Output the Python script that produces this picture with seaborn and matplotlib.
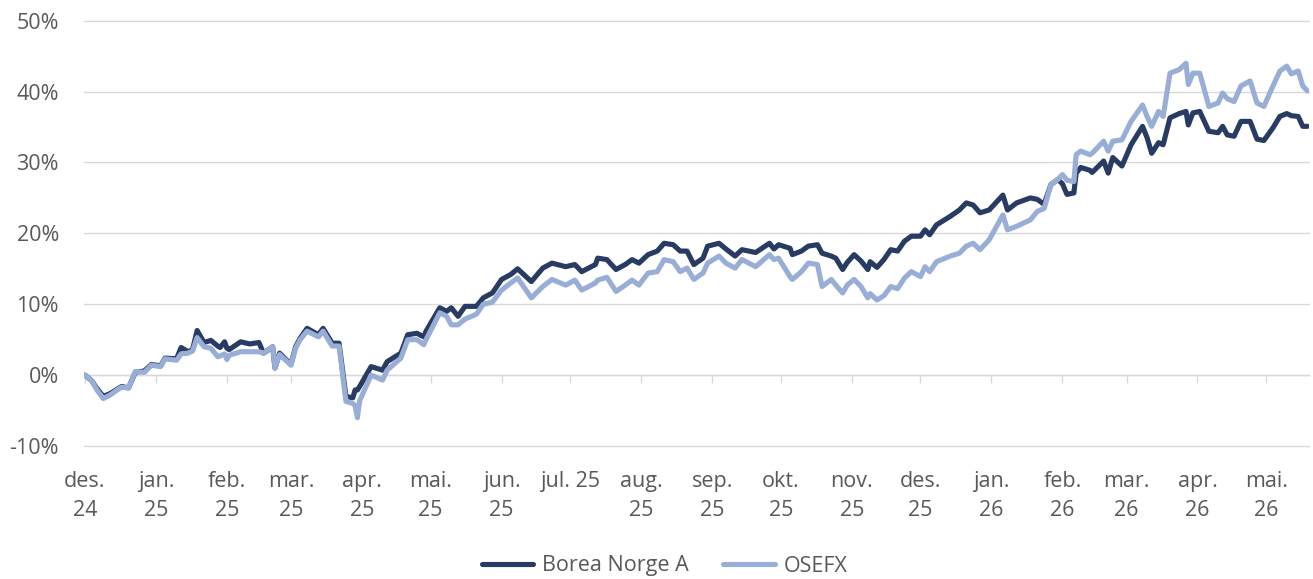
import numpy as np
import pandas as pd
import matplotlib
matplotlib.use("Agg")
import matplotlib.pyplot as plt
import matplotlib.dates as mdates
from matplotlib.ticker import PercentFormatter
import seaborn as sns

# Avkastning siden start, i prosent (lest av figuren)
dates = [
    "2024-12-01", "2024-12-04", "2024-12-06", "2024-12-09", "2024-12-12", "2024-12-15", "2024-12-17",
    "2024-12-20", "2024-12-23", "2024-12-27", "2024-12-30",
    "2025-01-03", "2025-01-05", "2025-01-10", "2025-01-12", "2025-01-15", "2025-01-17", "2025-01-19",
    "2025-01-22", "2025-01-25", "2025-01-28", "2025-01-29", "2025-01-31",
    "2025-02-01", "2025-02-02", "2025-02-07", "2025-02-11", "2025-02-15", "2025-02-17", "2025-02-21",
    "2025-02-22", "2025-02-24",
    "2025-03-01", "2025-03-03", "2025-03-05", "2025-03-08", "2025-03-13", "2025-03-15", "2025-03-19",
    "2025-03-22", "2025-03-25", "2025-03-28", "2025-03-29", "2025-03-30", "2025-03-31",
    "2025-04-05", "2025-04-10", "2025-04-12", "2025-04-18", "2025-04-21", "2025-04-25", "2025-04-28",
    "2025-04-29",
    "2025-05-05", "2025-05-08", "2025-05-10", "2025-05-13", "2025-05-16", "2025-05-21", "2025-05-24",
    "2025-05-28",
    "2025-06-01", "2025-06-05", "2025-06-08", "2025-06-14", "2025-06-19", "2025-06-23", "2025-06-29",
    "2025-07-03", "2025-07-06", "2025-07-12", "2025-07-13", "2025-07-17", "2025-07-21", "2025-07-25",
    "2025-07-28", "2025-07-31",
    "2025-08-04", "2025-08-08", "2025-08-11", "2025-08-15", "2025-08-18", "2025-08-21", "2025-08-24",
    "2025-08-28", "2025-08-30",
    "2025-09-04", "2025-09-07", "2025-09-11", "2025-09-14", "2025-09-20", "2025-09-26", "2025-09-28",
    "2025-09-30",
    "2025-10-05", "2025-10-06", "2025-10-10", "2025-10-13", "2025-10-17", "2025-10-19", "2025-10-23",
    "2025-10-25", "2025-10-28", "2025-10-30",
    "2025-11-02", "2025-11-05", "2025-11-08", "2025-11-09", "2025-11-12", "2025-11-15", "2025-11-18",
    "2025-11-21", "2025-11-24", "2025-11-27",
    "2025-12-01", "2025-12-03", "2025-12-05", "2025-12-08", "2025-12-14", "2025-12-18", "2025-12-21",
    "2025-12-24", "2025-12-27", "2025-12-31",
    "2026-01-06", "2026-01-08", "2026-01-12", "2026-01-18", "2026-01-21", "2026-01-24", "2026-01-27",
    "2026-01-30",
    "2026-02-01", "2026-02-03", "2026-02-06", "2026-02-07", "2026-02-09", "2026-02-13", "2026-02-14",
    "2026-02-19", "2026-02-21", "2026-02-23", "2026-02-27",
    "2026-03-03", "2026-03-08", "2026-03-10", "2026-03-12", "2026-03-15", "2026-03-17", "2026-03-20",
    "2026-03-24", "2026-03-27", "2026-03-28", "2026-03-30",
    "2026-04-02", "2026-04-06", "2026-04-10", "2026-04-12", "2026-04-14", "2026-04-17", "2026-04-20",
    "2026-04-24", "2026-04-27", "2026-04-30",
    "2026-05-04", "2026-05-07", "2026-05-10", "2026-05-12", "2026-05-15", "2026-05-17", "2026-05-19",
]

borea = [
    0.0, -0.8, -1.8, -3.0, -2.6, -2.0, -1.6, -1.8, 0.4, 0.6, 1.5,
    1.3, 2.4, 2.3, 3.9, 3.3, 3.6, 6.3, 4.6, 4.9, 4.1, 3.9, 4.7,
    3.8, 3.6, 4.7, 4.4, 4.6, 3.1, 4.0, 1.0, 3.1,
    1.5, 4.0, 5.2, 6.6, 5.7, 6.6, 4.5, 4.5, -3.0, -3.2, -2.1, -2.1, -1.6,
    1.2, 0.7, 1.9, 3.1, 5.7, 5.9, 5.4, 6.2,
    9.5, 9.0, 9.5, 8.3, 9.7, 9.7, 10.9, 11.6,
    13.5, 14.2, 15.0, 13.2, 15.1, 15.8, 15.3,
    15.6, 14.6, 15.6, 16.5, 16.3, 14.9, 15.6, 16.3, 15.8,
    17.0, 17.5, 18.6, 18.4, 17.5, 17.5, 15.6, 16.5, 18.2,
    18.6, 17.8, 16.8, 17.7, 17.3, 18.6, 17.8, 18.4,
    17.9, 17.0, 17.5, 18.2, 18.4, 17.2, 16.8, 16.5, 14.9, 15.9,
    17.0, 16.1, 14.9, 16.0, 15.2, 16.3, 17.7, 17.5, 18.9, 19.6,
    19.6, 20.5, 19.8, 21.2, 22.4, 23.3, 24.3, 24.0, 22.9, 23.3,
    25.4, 23.3, 24.3, 25.0, 24.8, 24.1, 26.9, 27.6,
    27.0, 25.5, 25.7, 28.5, 29.3, 28.9, 28.6, 30.2, 28.5, 30.7, 29.5,
    32.5, 35.1, 33.5, 31.3, 32.8, 32.5, 36.3, 36.9, 37.2, 35.3, 37.0,
    37.2, 34.4, 34.2, 35.1, 33.9, 33.7, 35.8, 35.8, 33.3, 33.1,
    34.9, 36.5, 36.9, 36.6, 36.5, 35.1, 35.1,
]

osefx = [
    0.0, -0.8, -2.0, -3.3, -2.8, -2.1, -1.7, -1.8, 0.5, 0.4, 1.4,
    1.2, 2.3, 2.1, 3.0, 3.1, 3.4, 5.3, 4.0, 3.8, 2.6, 2.7, 3.0,
    2.2, 2.8, 3.3, 3.3, 3.3, 3.1, 4.0, 1.0, 2.9,
    1.4, 3.8, 5.0, 6.2, 5.4, 6.2, 4.1, 4.1, -3.7, -4.0, -4.3, -6.0, -3.6,
    0.0, -0.7, 0.7, 2.4, 5.0, 5.0, 4.3, 5.0,
    8.8, 8.3, 7.1, 7.1, 7.9, 8.6, 10.0, 10.3,
    12.0, 13.0, 13.7, 10.9, 12.5, 13.5, 12.7,
    13.4, 12.0, 13.0, 13.4, 13.8, 11.8, 12.7, 13.4, 12.7,
    14.4, 14.6, 16.3, 16.0, 14.6, 15.1, 13.5, 14.4, 15.8,
    16.8, 15.8, 15.1, 16.3, 15.3, 17.0, 16.3, 16.5,
    13.9, 13.5, 14.6, 15.8, 15.6, 12.5, 13.5, 12.7, 11.6, 12.7,
    13.5, 12.5, 10.9, 11.5, 10.6, 11.2, 12.5, 12.2, 13.7, 14.6,
    13.9, 15.3, 14.6, 16.0, 16.8, 17.2, 18.2, 18.6, 17.7, 19.1,
    22.6, 20.5, 21.0, 21.9, 23.1, 23.5, 26.9, 27.6,
    28.3, 27.5, 27.3, 31.1, 31.6, 31.1, 31.3, 33.0, 31.6, 33.0, 33.2,
    35.8, 38.1, 36.5, 35.1, 37.2, 36.5, 42.6, 43.1, 44.0, 41.0, 42.6,
    42.6, 37.9, 38.4, 39.8, 39.0, 38.6, 40.8, 41.5, 38.4, 37.9,
    40.8, 42.9, 43.6, 42.5, 42.9, 40.8, 40.1,
]

series_names = ["Borea Norge A", "OSEFX"]
colors = ["#283B62", "#98AED6"]

month_ticks = pd.date_range("2024-12-01", "2026-05-01", freq="MS")
month_labels = ["des.\n24", "jan.\n25", "feb.\n25", "mar.\n25", "apr.\n25", "mai.\n25", "jun.\n25",
                "jul. 25", "aug.\n25", "sep.\n25", "okt.\n25", "nov.\n25", "des.\n25", "jan.\n26",
                "feb.\n26", "mar.\n26", "apr.\n26", "mai.\n26"]

df = pd.DataFrame({"dato": pd.to_datetime(dates), series_names[0]: borea, series_names[1]: osefx})
long = df.melt(id_vars="dato", var_name="serie", value_name="avkastning")

sns.set_theme(style="white")
plt.rcParams["font.family"] = ["Open Sans", "DejaVu Sans"]
plt.rcParams["axes.unicode_minus"] = False

txt = "#595959"
grid = "#D9D9D9"
fs = 15.5
lw = 3.7

fig = plt.figure(figsize=(13.13, 5.79), dpi=100)
ax = fig.add_axes([0.064, 0.2297, 0.933, 0.7345])

sns.lineplot(data=long, x="dato", y="avkastning", hue="serie", hue_order=series_names,
             palette=colors, linewidth=lw, ax=ax,
             solid_joinstyle="round", solid_capstyle="round")

ax.set_ylim(-10, 50)
ax.set_yticks(np.arange(-10, 51, 10))
ax.yaxis.set_major_formatter(PercentFormatter(xmax=100, decimals=0))
ax.set_xlim(pd.Timestamp("2024-11-30 14:00"), pd.Timestamp("2026-05-19 18:00"))
ax.set_xticks(month_ticks)
ax.set_xticklabels(month_labels, linespacing=1.5)
ax.set_xlabel("")
ax.set_ylabel("")

ax.set_axisbelow(True)
ax.grid(axis="y", color=grid, linewidth=1)
ax.grid(axis="x", visible=False)
for gl in ax.get_ygridlines():
    gl.set_clip_on(False)
for s in ax.spines.values():
    s.set_visible(False)
ax.tick_params(axis="x", length=0, pad=18, labelsize=fs, labelcolor=txt)
ax.tick_params(axis="y", length=0, pad=18, labelsize=fs, labelcolor=txt)

# nullinje med månedsmarkører
zero = ax.secondary_xaxis(1 / 6)
zero.set_xticks(mdates.date2num(month_ticks))
zero.tick_params(axis="x", length=6, width=1, color=grid, labelbottom=False)
zero.spines["bottom"].set_color(grid)
zero.spines["bottom"].set_linewidth(1)

sns.move_legend(ax, "center", bbox_to_anchor=(0.506, 1 - 566 / 579), bbox_transform=fig.transFigure,
                ncol=2, title=None, frameon=False, fontsize=fs, handlelength=2.4,
                handletextpad=0.4, columnspacing=1.6, borderaxespad=0.0)
leg = ax.get_legend()
for line in leg.get_lines():
    line.set_linewidth(lw)
for t in leg.get_texts():
    t.set_color(txt)

fig.savefig("out.png", dpi=100)
